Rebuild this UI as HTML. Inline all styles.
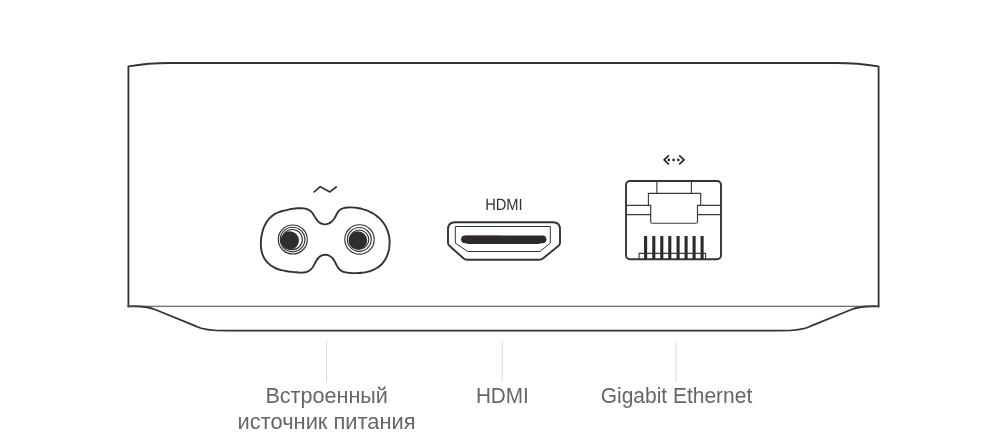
<!DOCTYPE html>
<html><head><meta charset="utf-8">
<style>
html,body{margin:0;padding:0;background:#fff;width:1000px;height:436px;overflow:hidden}
svg{display:block;will-change:transform}
text{font-family:"Liberation Sans",sans-serif;}
</style></head>
<body>
<svg width="1000" height="436" viewBox="0 0 1000 436">
<g fill="none" stroke="#333" stroke-width="1.8" stroke-linejoin="round" stroke-linecap="round">
  <!-- box outline -->
  <path d="M128.4,306.4 L128.4,66.4 Q148,63 170,63 L836,63 Q858,63 878.6,66.4 L878.6,306.4"/>
  <!-- bottom foot -->
  <path d="M128.4,306.4 C137,305.9 146,306.1 155,309.5 L195.8,326.2 C201,328.8 210,330.7 226,330.7 L780,330.7 C796,330.7 805.4,328.8 810.6,326.2 L851.5,309.5 C860.5,306.1 869.5,305.9 878.6,306.4"/>
</g>
<line x1="128.4" y1="306.3" x2="878.6" y2="306.3" stroke="#444" stroke-width="1.1"/>

<!-- tilde -->
<path d="M314.2,191.9 L320.2,186.7 L329.9,191.9 L336.2,187" fill="none" stroke="#333" stroke-width="1.7" stroke-linejoin="round" stroke-linecap="round"/>

<!-- power port -->
<path d="M324.9,224.4 C326.1,224.5 327.3,224.2 328.4,223.7 C329.5,223.3 330.5,222.6 331.5,221.7 C332.5,220.9 333.3,219.8 334.1,218.8 C334.9,217.7 335.5,216.5 336.1,215.3 C336.7,214.1 337.3,212.9 338.0,211.9 C338.7,210.9 339.5,210.1 340.5,209.5 C341.4,208.8 342.5,208.4 343.6,208.1 C344.8,207.8 346.0,207.6 347.3,207.5 C348.5,207.4 349.8,207.4 351.1,207.4 C352.4,207.4 353.7,207.5 355.0,207.6 C356.2,207.8 357.5,208.0 358.8,208.2 C360.1,208.4 361.3,208.7 362.6,209.1 C363.8,209.4 365.0,209.8 366.2,210.2 C367.4,210.7 368.6,211.2 369.7,211.7 C370.9,212.3 372.0,212.8 373.1,213.5 C374.1,214.1 375.2,214.8 376.2,215.6 C377.2,216.3 378.1,217.1 379.0,217.9 C379.9,218.8 380.8,219.7 381.6,220.6 C382.4,221.5 383.2,222.5 383.9,223.5 C384.6,224.6 385.2,225.6 385.8,226.7 C386.3,227.8 386.9,229.0 387.3,230.1 C387.8,231.3 388.2,232.5 388.5,233.7 C388.8,234.9 389.1,236.2 389.3,237.4 C389.4,238.7 389.6,239.9 389.6,241.2 C389.7,242.5 389.6,243.8 389.5,245.1 C389.5,246.3 389.3,247.6 389.1,248.9 C388.8,250.1 388.5,251.4 388.2,252.6 C387.8,253.8 387.4,255.0 386.9,256.2 C386.4,257.4 385.8,258.5 385.2,259.5 C384.5,260.6 383.8,261.6 383.0,262.6 C382.3,263.6 381.4,264.5 380.5,265.3 C379.6,266.1 378.7,266.9 377.7,267.5 C376.6,268.2 375.6,268.8 374.4,269.4 C373.3,269.9 372.1,270.4 371.0,270.8 C369.8,271.2 368.5,271.5 367.3,271.8 C366.0,272.1 364.7,272.4 363.5,272.6 C362.2,272.7 360.9,272.9 359.6,273.0 C358.3,273.1 357.1,273.1 355.8,273.1 C354.5,273.1 353.3,273.1 352.0,273.1 C350.8,273.0 349.6,272.9 348.3,272.8 C347.1,272.6 345.8,272.5 344.6,272.2 C343.3,271.9 342.2,271.5 341.2,270.8 C340.2,270.2 339.4,269.4 338.6,268.4 C337.9,267.4 337.2,266.3 336.6,265.1 C336.0,264.0 335.4,262.8 334.8,261.6 C334.2,260.5 333.5,259.4 332.7,258.4 C331.9,257.4 330.8,256.6 329.7,256.0 C328.6,255.3 327.4,254.9 326.2,254.8 C324.9,254.6 323.7,254.8 322.5,255.2 C321.4,255.6 320.3,256.2 319.3,257.0 C318.3,257.9 317.5,258.9 316.8,259.9 C316.1,261.0 315.5,262.2 314.9,263.3 C314.3,264.5 313.8,265.7 313.1,266.7 C312.4,267.8 311.5,268.8 310.6,269.6 C309.7,270.4 308.6,271.1 307.5,271.6 C306.4,272.1 305.2,272.3 304.0,272.5 C302.8,272.7 301.5,272.7 300.2,272.6 C299.0,272.6 297.7,272.5 296.4,272.3 C295.1,272.2 293.8,272.1 292.5,271.9 C291.2,271.8 290.0,271.6 288.7,271.5 C287.5,271.3 286.2,271.1 285.0,270.9 C283.8,270.7 282.6,270.5 281.4,270.2 C280.2,269.8 279.0,269.5 277.9,269.1 C276.7,268.7 275.6,268.2 274.5,267.6 C273.4,267.0 272.3,266.4 271.2,265.7 C270.2,264.9 269.1,264.1 268.2,263.2 C267.3,262.3 266.4,261.4 265.7,260.4 C264.9,259.4 264.2,258.3 263.7,257.2 C263.1,256.0 262.7,254.9 262.3,253.7 C261.9,252.5 261.6,251.3 261.4,250.1 C261.2,248.9 261.0,247.6 260.9,246.4 C260.8,245.2 260.8,243.9 260.9,242.6 C260.9,241.4 261.0,240.1 261.1,238.8 C261.2,237.5 261.4,236.3 261.7,235.0 C261.9,233.7 262.2,232.5 262.6,231.2 C262.9,230.0 263.3,228.8 263.8,227.6 C264.3,226.4 264.8,225.3 265.4,224.2 C266.0,223.1 266.6,222.0 267.3,221.0 C268.0,220.0 268.8,219.1 269.6,218.2 C270.5,217.3 271.4,216.5 272.3,215.7 C273.3,215.0 274.3,214.3 275.5,213.7 C276.6,213.1 277.7,212.6 278.9,212.2 C280.1,211.7 281.4,211.3 282.6,211.0 C283.9,210.7 285.2,210.3 286.4,210.1 C287.6,209.8 288.9,209.5 290.1,209.2 C291.3,209.0 292.5,208.8 293.7,208.6 C294.9,208.4 296.2,208.3 297.5,208.2 C298.7,208.1 300.0,208.1 301.3,208.1 C302.6,208.2 303.9,208.3 305.1,208.6 C306.4,208.9 307.5,209.2 308.6,209.8 C309.7,210.3 310.6,211.0 311.5,211.9 C312.3,212.8 313.0,213.8 313.7,214.9 C314.4,216.0 315.0,217.2 315.7,218.3 C316.4,219.4 317.2,220.4 318.1,221.3 C319.0,222.2 320.1,223.0 321.3,223.5 C322.5,224.1 323.7,224.4 324.9,224.4Z" fill="none" stroke="#333" stroke-width="1.9"/>
<g fill="none" stroke="#333" stroke-width="1.15">
  <circle cx="292.8" cy="239.5" r="14.5"/>
  <circle cx="292.6" cy="239.5" r="12.3"/>
  <circle cx="292.3" cy="239.6" r="10.1"/>
  <circle cx="359.5" cy="239.4" r="14.7"/>
  <circle cx="359.3" cy="239.4" r="11.9"/>
  <circle cx="359.2" cy="239.6" r="9.6"/>
</g>
<circle cx="289.8" cy="240.5" r="9.2" fill="#2e2e2e"/>
<circle cx="357.9" cy="240.5" r="9.3" fill="#2e2e2e"/>

<!-- HDMI label -->
<text x="503.9" y="210.3" font-size="16.2" style="text-rendering:geometricPrecision" fill="#333" text-anchor="middle" textLength="37.5" lengthAdjust="spacingAndGlyphs">HDMI</text>
<!-- HDMI port -->
<path d="M455,222.2 L553,222.2 Q560,222.2 560,229.2 L560,242.8 Q560,244.6 558.6,245.7 L543.2,258.3 Q541.4,259.7 539.2,259.7 L467.3,259.7 Q465.1,259.7 463.4,258.3 L449.4,245.7 Q448,244.6 448,242.8 L448,229.2 Q448,222.2 455,222.2 Z" fill="none" stroke="#333" stroke-width="1.9" stroke-linejoin="round"/>
<path d="M455.3,226.5 L550.3,226.5 L550.3,243.1 L540,251.5 L467.7,251.5 L455.3,243.1 Z" fill="none" stroke="#333" stroke-width="1"/>
<rect x="466" y="239.5" width="75" height="4.6" rx="2.3" fill="#333"/>
<path d="M465,235.4 L542.5,235.4 A3.9,3.9 0 0 1 542.5,243.2 L465,243.2 A3.9,3.9 0 0 1 465,235.4 Z" fill="#2b2b2b"/>
<line x1="465.5" y1="235.4" x2="501" y2="235.4" stroke="#c0392b" stroke-width="0.7" opacity="0.8"/>

<!-- ethernet icon -->
<g fill="none" stroke="#222" stroke-width="1.6" stroke-linecap="butt" stroke-linejoin="round">
  <path d="M668.9,155.4 L664.1,159.9 L668.9,164.4"/>
  <path d="M679.2,155.4 L684,159.9 L679.2,164.4"/>
</g>
<g fill="#222">
  <circle cx="668.8" cy="159.9" r="1.3"/>
  <circle cx="673.6" cy="159.9" r="1.3"/>
  <circle cx="678.3" cy="159.9" r="1.3"/>
</g>

<!-- ethernet port -->
<rect x="626" y="181" width="95" height="78.3" rx="4" fill="none" stroke="#333" stroke-width="1.9"/>
<g fill="none" stroke="#3a3a3a" stroke-width="1.15">
  <path d="M656.9,181 L656.9,193.3 M691.4,181 L691.4,193.3"/>
  <path d="M648.4,205.4 L648.4,193.3 L700.7,193.3 L700.7,205.4"/>
  <path d="M626,205.4 L650.7,205.4 L650.7,214.6 L626,214.6"/>
  <path d="M721,205.4 L697.5,205.4 L697.5,214.6 L721,214.6"/>
  <path d="M650.7,214.6 L650.7,221.4 Q650.7,223.2 652.5,223.2 L695.7,223.2 Q697.5,223.2 697.5,221.4 L697.5,214.6"/>
  <path d="M639.1,259.3 L639.1,253.3 L705.6,253.3 L705.6,259.3"/>
</g>
<g fill="#2b2b2b">
  <rect x="644.05" y="236" width="3.1" height="23.3"/>
  <rect x="652.25" y="236" width="3.1" height="23.3"/>
  <rect x="660.25" y="236" width="3.1" height="23.3"/>
  <rect x="668.25" y="236" width="3.1" height="23.3"/>
  <rect x="676.55" y="236" width="3.1" height="23.3"/>
  <rect x="684.55" y="236" width="3.1" height="23.3"/>
  <rect x="692.55" y="236" width="3.1" height="23.3"/>
  <rect x="700.55" y="236" width="3.1" height="23.3"/>
</g>

<!-- callout lines -->
<g stroke="#d9d9d9" stroke-width="1">
  <line x1="326.5" y1="341" x2="326.5" y2="382"/>
  <line x1="502.2" y1="341" x2="502.2" y2="382"/>
  <line x1="676.1" y1="341" x2="676.1" y2="382"/>
</g>

<!-- labels -->
<g fill="#666" font-size="21.3" text-anchor="middle">
  <text x="326.7" y="402.8" textLength="122.5" lengthAdjust="spacingAndGlyphs">Встроенный</text>
  <text x="326.6" y="428.9" textLength="178" lengthAdjust="spacingAndGlyphs">источник питания</text>
  <text x="502.4" y="402.8" textLength="53" lengthAdjust="spacingAndGlyphs">HDMI</text>
  <text x="676.5" y="402.8" textLength="151.5" lengthAdjust="spacingAndGlyphs">Gigabit Ethernet</text>
</g>
</svg>
</body></html>
